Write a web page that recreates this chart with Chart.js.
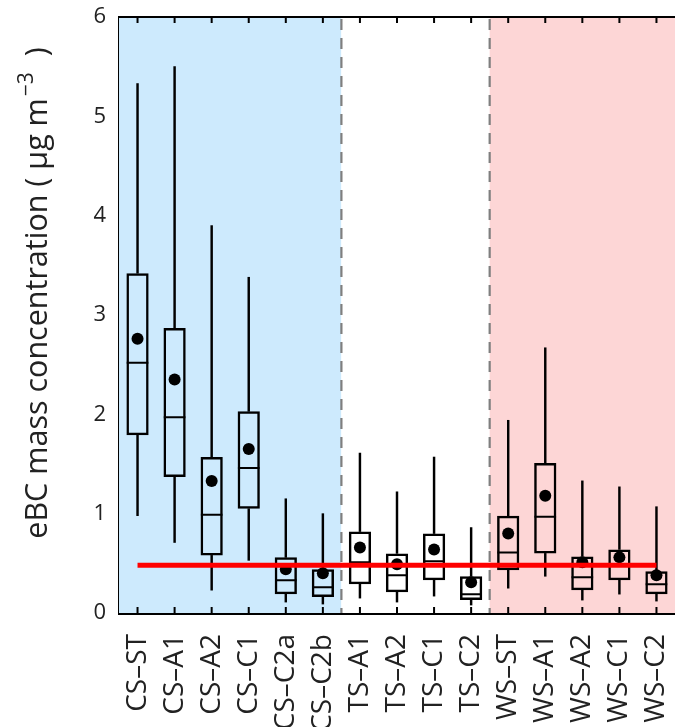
<!DOCTYPE html>
<html>
<head>
<meta charset="utf-8">
<script src="https://cdn.jsdelivr.net/npm/chart.js@4.4.1/dist/chart.umd.min.js"></script>
<style>
  html, body { margin: 0; padding: 0; background: #fff; }
  #wrap { width: 675px; height: 727px; }
</style>
</head>
<body>
<div id="wrap"><canvas id="eBC"></canvas></div>
<script>
"use strict";

// eBC box plot data (µg m^-3)
const sites = ['CS–ST', 'CS–A1', 'CS–A2', 'CS–C1', 'CS–C2a', 'CS–C2b',
               'TS–A1', 'TS–A2', 'TS–C1', 'TS–C2',
               'WS–ST', 'WS–A1', 'WS–A2', 'WS–C1', 'WS–C2'];
const whiskerLow  = [0.98, 0.71, 0.23, 0.53, 0.11, 0.09, 0.15, 0.11, 0.17, 0.08, 0.25, 0.37, 0.13, 0.19, 0.12];
const q1          = [1.79, 1.37, 0.58, 1.05, 0.19, 0.16, 0.29, 0.21, 0.33, 0.13, 0.43, 0.60, 0.23, 0.33, 0.19];
const median      = [2.52, 1.97, 0.99, 1.46, 0.33, 0.26, 0.51, 0.38, 0.52, 0.19, 0.61, 0.97, 0.36, 0.48, 0.29];
const q3          = [3.42, 2.87, 1.57, 2.03, 0.56, 0.44, 0.82, 0.60, 0.80, 0.37, 0.98, 1.51, 0.57, 0.64, 0.42];
const whiskerHigh = [5.33, 5.50, 3.90, 3.38, 1.15, 1.00, 1.61, 1.22, 1.57, 0.86, 1.94, 2.67, 1.33, 1.27, 1.07];
const means       = [2.76, 2.35, 1.33, 1.65, 0.44, 0.40, 0.66, 0.49, 0.64, 0.31, 0.80, 1.18, 0.51, 0.56, 0.38];
const threshold = 0.48;
const yTicks = [0, 1, 2, 3, 4, 5, 6];

const seasonColors = { CS: '#cdeafd', TS: '#ffffff', WS: '#fdd6d6' };
const FONT = "'Open Sans', 'Noto Sans', sans-serif";

// season shading + dashed separators
const seasonPlugin = {
    id: 'seasons',
    beforeDatasetsDraw(chart) {
        const { ctx, chartArea: a, scales: { x } } = chart;
        ctx.save();
        let start = 0;
        for (let i = 1; i <= sites.length; i++) {
            const prev = sites[i - 1].split('–')[0];
            const cur = i < sites.length ? sites[i].split('–')[0] : null;
            if (cur !== prev) {
                const x0 = x.getPixelForValue(start - 0.5);
                const x1 = x.getPixelForValue(i - 0.5);
                ctx.fillStyle = seasonColors[prev];
                ctx.fillRect(x0, a.top, x1 - x0, a.bottom - a.top);
                start = i;
            }
        }
        ctx.strokeStyle = '#7f7f7f';
        ctx.lineWidth = 2.2;
        ctx.setLineDash([11, 8]);
        for (let i = 1; i < sites.length; i++) {
            if (sites[i].split('–')[0] !== sites[i - 1].split('–')[0]) {
                const px = x.getPixelForValue(i - 0.5);
                ctx.beginPath();
                ctx.moveTo(px, a.top + 2);
                ctx.lineTo(px, a.bottom);
                ctx.stroke();
            }
        }
        ctx.restore();
    }
};

// top frame line and inward ticks
const framePlugin = {
    id: 'frame',
    afterDraw(chart) {
        const { ctx, chartArea: a, scales: { x } } = chart;
        ctx.save();
        ctx.strokeStyle = '#000';
        ctx.lineWidth = 2;
        ctx.beginPath();
        ctx.moveTo(a.left, a.top);
        ctx.lineTo(a.right, a.top);
        ctx.stroke();
        sites.forEach((s, i) => {
            const px = x.getPixelForValue(i);
            ctx.beginPath();
            ctx.moveTo(px, a.bottom);
            ctx.lineTo(px, a.bottom - 6);
            ctx.moveTo(px, a.top);
            ctx.lineTo(px, a.top + 6);
            ctx.stroke();
        });
        ctx.restore();
    }
};

// y axis title with superscript
const yTitlePlugin = {
    id: 'yTitle',
    afterDraw(chart) {
        const { ctx } = chart;
        const main = 'eBC mass concentration ( μg m';
        const sup = '−3';
        const tail = '  )';
        ctx.save();
        ctx.translate(47, 294);
        ctx.rotate(-Math.PI / 2);
        ctx.fillStyle = '#222';
        ctx.textBaseline = 'alphabetic';
        ctx.font = `30.5px ${FONT}`;
        const w1 = ctx.measureText(main).width;
        ctx.font = `21px ${FONT}`;
        const w2 = ctx.measureText(sup).width;
        ctx.font = `30.5px ${FONT}`;
        const w3 = ctx.measureText(tail).width;
        let cx = -(w1 + w2 + w3) / 2;
        ctx.fillText(main, cx, 0);
        cx += w1 + 2;
        ctx.font = `21px ${FONT}`;
        ctx.fillText(sup, cx, -14);
        cx += w2;
        ctx.font = `30.5px ${FONT}`;
        ctx.fillText(tail, cx, 0);
        ctx.restore();
    }
};

const ctx = document.getElementById('eBC').getContext('2d');
new Chart(ctx, {
    data: {
        labels: sites,
        datasets: [
            {
                type: 'line',
                data: [{ x: sites[0], y: threshold }, { x: sites[sites.length - 1], y: threshold }],
                borderColor: '#ff0000',
                borderWidth: 5,
                pointRadius: 0,
                order: 0
            },
            {
                type: 'line',
                data: means,
                showLine: false,
                pointRadius: 6,
                pointBackgroundColor: '#000',
                pointBorderWidth: 0,
                order: 1
            },
            {
                type: 'line',
                data: median,
                showLine: false,
                pointStyle: 'line',
                pointRadius: 10.8,
                pointBorderColor: '#000',
                pointBorderWidth: 2,
                order: 2
            },
            {
                type: 'bar',
                data: sites.map((s, i) => [q1[i], q3[i]]),
                backgroundColor: 'rgba(0,0,0,0)',
                borderColor: '#000',
                borderWidth: 2.5,
                borderSkipped: false,
                barPercentage: 0.6,
                categoryPercentage: 1,
                grouped: false,
                order: 3
            },
            {
                type: 'bar',
                data: sites.map((s, i) => [whiskerLow[i], q1[i]]),
                backgroundColor: '#000',
                barThickness: 1.8,
                grouped: false,
                order: 4
            },
            {
                type: 'bar',
                data: sites.map((s, i) => [q3[i], whiskerHigh[i]]),
                backgroundColor: '#000',
                barThickness: 1.8,
                grouped: false,
                order: 4
            }
        ]
    },
    options: {
        responsive: true,
        maintainAspectRatio: false,
        animation: false,
        layout: { autoPadding: false, padding: { top: 17, left: 0, right: 0, bottom: 0 } },
        plugins: {
            legend: { display: false },
            tooltip: { enabled: false }
        },
        scales: {
            x: {
                type: 'category',
                offset: true,
                grid: { display: false, drawTicks: false },
                border: { display: true, color: '#000', width: 3 },
                ticks: {
                    autoSkip: false,
                    minRotation: 90,
                    maxRotation: 90,
                    padding: 21,
                    color: '#222',
                    font: { family: FONT, size: 28 }
                },
                afterFit(scale) {
                    scale.height = 114;
                    scale.paddingLeft = 0;
                    scale.paddingRight = 0;
                }
            },
            y: {
                min: 0,
                max: 6,
                grid: { display: false, drawTicks: false },
                border: { display: true, color: '#000', width: 3 },
                afterBuildTicks(scale) { scale.ticks = yTicks.map(v => ({ value: v })); },
                ticks: {
                    padding: 13,
                    color: '#222',
                    font: { family: FONT, size: 22 }
                },
                afterFit(scale) {
                    scale.width = 119;
                    scale.paddingTop = 0;
                    scale.paddingBottom = 0;
                }
            }
        }
    },
    plugins: [seasonPlugin, framePlugin, yTitlePlugin]
});
</script>
</body>
</html>
